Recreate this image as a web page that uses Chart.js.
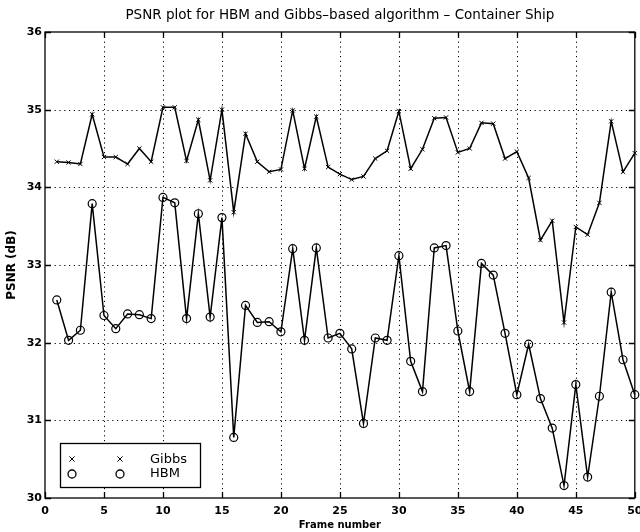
<!DOCTYPE html>
<html>
<head>
<meta charset="utf-8">
<script src="https://cdn.jsdelivr.net/npm/chart.js@4/dist/chart.umd.min.js"></script>
<style>
html,body{margin:0;padding:0;background:#fff;}
#wrap{width:640px;height:532px;position:relative;}
</style>
</head>
<body>
<div id="wrap"><canvas id="c" width="640" height="532"></canvas></div>
<script>
const frames = [1,2,3,4,5,6,7,8,9,10,11,12,13,14,15,16,17,18,19,20,21,22,23,24,25,26,27,28,29,30,31,32,33,34,35,36,37,38,39,40,41,42,43,44,45,46,47,48,49,50];
const gibbs = [34.33,34.32,34.30,34.94,34.39,34.39,34.30,34.50,34.33,35.03,
               35.03,34.34,34.87,34.09,35.00,33.68,34.69,34.33,34.20,34.23,
               34.99,34.24,34.91,34.26,34.17,34.10,34.14,34.37,34.47,34.98,
               34.24,34.49,34.89,34.90,34.45,34.50,34.83,34.82,34.37,34.46,
               34.12,33.32,33.57,32.26,33.49,33.39,33.80,34.85,34.20,34.44];
const hbm = [32.55,32.03,32.16,33.79,32.35,32.18,32.37,32.36,32.31,33.87,
             33.80,32.31,33.66,32.33,33.61,30.78,32.48,32.26,32.27,32.14,
             33.21,32.03,33.22,32.06,32.12,31.92,30.96,32.06,32.03,33.12,
             31.76,31.37,33.22,33.25,32.15,31.37,33.02,32.87,32.12,31.33,
             31.98,31.28,30.90,30.16,31.46,30.27,31.31,32.65,31.78,31.33];
const xTicks = [0,5,10,15,20,25,30,35,40,45,50];
const yTicks = [30,31,32,33,34,35,36];
const titleText = 'PSNR plot for HBM and Gibbs\u2013based algorithm \u2013 Container Ship';
const xLabel = 'Frame number';
const yLabel = 'PSNR (dB)';
const seriesNames = ['Gibbs','HBM'];

const FONT = '"DejaVu Sans", sans-serif';

const decor = {
  id: 'decor',
  beforeDraw(chart) {
    const ctx = chart.ctx;
    ctx.save();
    ctx.fillStyle = '#fff';
    ctx.fillRect(0, 0, chart.width, chart.height);
    ctx.restore();
  },
  beforeDatasetsDraw(chart) {
    const {ctx, chartArea: a, scales: {x, y}} = chart;
    ctx.save();
    ctx.strokeStyle = '#000';
    ctx.lineWidth = 1;
    ctx.setLineDash([1.2, 3.6]);
    xTicks.forEach(v => {
      if (v <= x.min || v >= x.max) return;
      const px = Math.round(x.getPixelForValue(v)) + 0.5;
      ctx.beginPath(); ctx.moveTo(px, a.top); ctx.lineTo(px, a.bottom); ctx.stroke();
    });
    yTicks.forEach(v => {
      if (v <= y.min || v >= y.max) return;
      const py = Math.round(y.getPixelForValue(v)) + 0.5;
      ctx.beginPath(); ctx.moveTo(a.left, py); ctx.lineTo(a.right, py); ctx.stroke();
    });
    ctx.restore();
  },
  afterDatasetsDraw(chart) {
    const {ctx, chartArea: a, scales: {x, y}} = chart;
    ctx.save();
    ctx.strokeStyle = '#000';
    ctx.lineWidth = 1.3;
    ctx.setLineDash([]);
    ctx.strokeRect(a.left, a.top, a.right - a.left, a.bottom - a.top);
    const tl = 6;
    xTicks.forEach(v => {
      const px = Math.round(x.getPixelForValue(v)) + 0.5;
      ctx.beginPath();
      ctx.moveTo(px, a.bottom); ctx.lineTo(px, a.bottom - tl);
      ctx.moveTo(px, a.top); ctx.lineTo(px, a.top + tl);
      ctx.stroke();
    });
    yTicks.forEach(v => {
      const py = Math.round(y.getPixelForValue(v)) + 0.5;
      ctx.beginPath();
      ctx.moveTo(a.left, py); ctx.lineTo(a.left + tl, py);
      ctx.moveTo(a.right, py); ctx.lineTo(a.right - tl, py);
      ctx.stroke();
    });
    // title
    ctx.fillStyle = '#000';
    ctx.textAlign = 'center';
    ctx.textBaseline = 'middle';
    ctx.font = '13.5px ' + FONT;
    ctx.fillText(titleText, (a.left + a.right) / 2, 15);
    // x label
    ctx.font = 'bold 10px ' + FONT;
    ctx.fillText(xLabel, (a.left + a.right) / 2, 525);
    // y label
    ctx.save();
    ctx.translate(12, (a.top + a.bottom) / 2);
    ctx.rotate(-Math.PI / 2);
    ctx.font = 'bold 12px ' + FONT;
    ctx.fillText(yLabel, 0, 0);
    ctx.restore();
    // legend
    const bx = 60, by = 443, bw = 140, bh = 44;
    ctx.fillStyle = '#fff';
    ctx.fillRect(bx, by, bw, bh);
    ctx.lineWidth = 1.3;
    ctx.strokeStyle = '#000';
    ctx.strokeRect(bx + 0.5, by + 0.5, bw, bh);
    const rows = [459, 473];
    ctx.font = '13px ' + FONT;
    ctx.textAlign = 'left';
    ctx.fillStyle = '#000';
    rows.forEach((ry, i) => {
      [72, 120].forEach(mx => {
        ctx.beginPath();
        if (i === 0) {
          const s = 2.6;
          ctx.lineWidth = 1;
          ctx.moveTo(mx - s, ry - s); ctx.lineTo(mx + s, ry + s);
          ctx.moveTo(mx + s, ry - s); ctx.lineTo(mx - s, ry + s);
        } else {
          ctx.lineWidth = 1.3;
          ctx.arc(mx, ry + 1, 4, 0, Math.PI * 2);
        }
        ctx.stroke();
      });
      ctx.fillText(seriesNames[i], 150, ry + 1);
    });
    ctx.restore();
  }
};

const mk = arr => frames.map((f, i) => ({x: f, y: arr[i]}));

new Chart(document.getElementById('c'), {
  type: 'scatter',
  data: {
    datasets: [
      {
        label: seriesNames[0],
        data: mk(gibbs),
        showLine: true,
        borderColor: '#000',
        borderWidth: 1.5,
        pointStyle: 'crossRot',
        pointRadius: 3,
        pointBorderWidth: 1,
        pointBorderColor: '#000',
        pointBackgroundColor: 'transparent',
        tension: 0
      },
      {
        label: seriesNames[1],
        data: mk(hbm),
        showLine: true,
        borderColor: '#000',
        borderWidth: 1.5,
        pointStyle: 'circle',
        pointRadius: 4,
        pointBorderWidth: 1.2,
        pointBorderColor: '#000',
        pointBackgroundColor: 'transparent',
        tension: 0
      }
    ]
  },
  options: {
    responsive: false,
    animation: false,
    devicePixelRatio: 1,
    clip: false,
    layout: {padding: {top: 32, right: 2, left: 0, bottom: 0}},
    plugins: {legend: {display: false}, title: {display: false}, tooltip: {enabled: false}},
    scales: {
      x: {
        type: 'linear',
        min: 0, max: 50,
        afterBuildTicks: s => { s.ticks = xTicks.map(v => ({value: v})); },
        grid: {display: false, drawTicks: false},
        border: {display: false},
        ticks: {color: '#000', font: {family: FONT, size: 11, weight: 'bold'}, padding: 7, maxRotation: 0, autoSkip: false},
        afterFit: s => { s.height = 34; s.paddingLeft = 0; s.paddingRight = 0; }
      },
      y: {
        type: 'linear',
        min: 30, max: 36,
        afterBuildTicks: s => { s.ticks = yTicks.map(v => ({value: v})); },
        grid: {display: false, drawTicks: false},
        border: {display: false},
        ticks: {color: '#000', font: {family: FONT, size: 11, weight: 'bold'}, padding: 3, autoSkip: false},
        afterFit: s => { s.width = 45; s.paddingTop = 0; s.paddingBottom = 0; }
      }
    }
  },
  plugins: [decor]
});
</script>
</body>
</html>
